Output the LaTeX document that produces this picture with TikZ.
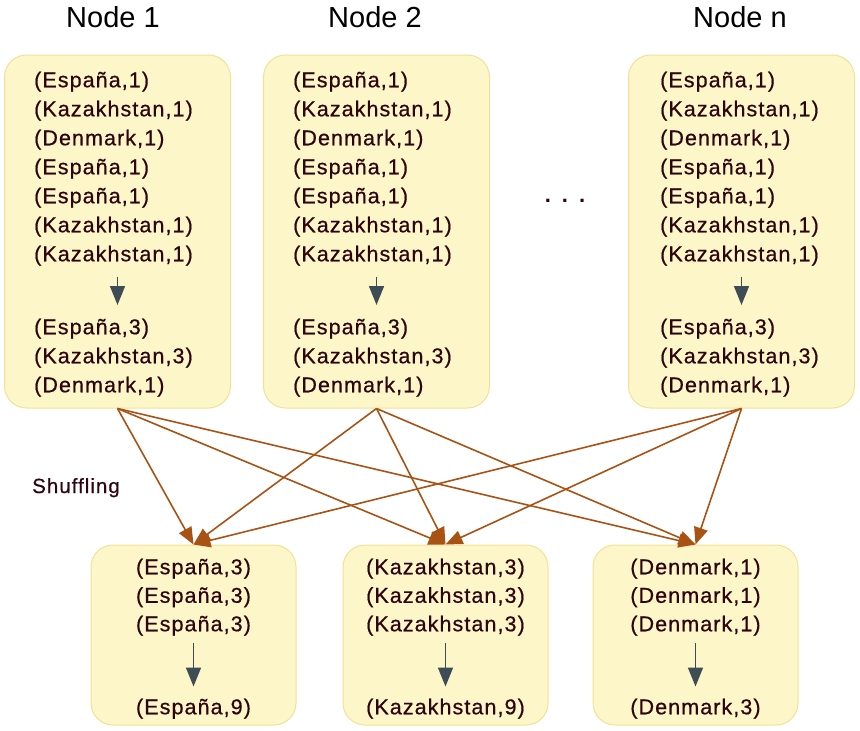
\documentclass[tikz,border=0pt]{standalone}
\usepackage{fontspec}
\setmainfont{Liberation Sans}
\newfontfamily\pairfont[LetterSpace=5,FakeBold=0.6]{Liberation Sans}
\usetikzlibrary{arrows.meta,positioning}
\definecolor{boxfill}{RGB}{253,246,200}
\definecolor{boxedge}{RGB}{240,226,150}
\definecolor{pairtext}{RGB}{45,5,15}
\definecolor{sumgray}{RGB}{62,76,86}
\definecolor{shuforange}{RGB}{168,82,20}
\newcommand{\mappairs}{(España,1)\\(Kazakhstan,1)\\(Denmark,1)\\(España,1)\\(España,1)\\(Kazakhstan,1)\\(Kazakhstan,1)}
\newcommand{\combinedpairs}{(España,3)\\(Kazakhstan,3)\\(Denmark,1)}

\begin{document}
\begin{tikzpicture}[x=1pt, y=1pt,
    mapbox/.style={rectangle, rounded corners=22pt, draw=boxedge, fill=boxfill, line width=1pt, minimum width=226pt, minimum height=353pt, inner sep=0pt},
    redbox/.style={mapbox, minimum width=205pt, minimum height=180pt},
    pairs/.style={inner sep=0pt, align=left, text=pairtext, font=\pairfont\fontsize{21.5}{29}\selectfont},
    cpairs/.style={pairs, align=center, font=\pairfont\fontsize{21.5}{28.5}\selectfont},
    title/.style={font=\fontsize{29}{34}\selectfont, anchor=base, inner sep=0pt},
    sumarr/.style={-{Triangle[length=19pt, width=15pt]}, line width=1.6pt, sumgray},
    shufarr/.style={-{Triangle[length=17pt, width=14pt]}, line width=1.6pt, shuforange}
]
  \useasboundingbox (0,0) rectangle (860,-731);

  % titles
  \node[title] (t1) at (113,-27) {Node 1};
  \node[title] (t2) at (375,-27) {Node 2};
  \node[title] (tn) at (740,-27) {Node n};

  % map side
  \node[mapbox] (box1) at (117.5,-231.5) {};
  \node[mapbox] (box2) at (376.5,-231.5) {};
  \node[mapbox] (boxn) at (741.5,-231.5) {};
  \node[font=\bfseries\fontsize{22}{26}\selectfont, text=pairtext] (dots) at (565,-201) {.\,\,\,.\,\,\,.};

  \node[pairs, below right=17pt and 30pt of box1.north west] (up1) {\mappairs};
  \node[pairs, below right=264pt and 30pt of box1.north west] (res1) {\combinedpairs};
  \node[pairs, below right=17pt and 30pt of box2.north west] (up2) {\mappairs};
  \node[pairs, below right=264pt and 30pt of box2.north west] (res2) {\combinedpairs};
  \node[pairs, below right=17pt and 32pt of boxn.north west] (upn) {\mappairs};
  \node[pairs, below right=264pt and 32pt of boxn.north west] (resn) {\combinedpairs};

  \draw[sumarr, shorten <=11pt, shorten >=13.5pt] (up1.south -| box1.north) -- (res1.north -| box1.north);
  \draw[sumarr, shorten <=11pt, shorten >=13.5pt] (up2.south -| box2.north) -- (res2.north -| box2.north);
  \draw[sumarr, shorten <=11pt, shorten >=13.5pt] (upn.south -| boxn.north) -- (resn.north -| boxn.north);

  % reduce side
  \node[redbox] (redA) at (193.5,-635) {};
  \node[redbox] (redB) at (445.5,-635) {};
  \node[redbox] (redC) at (695.5,-635) {};

  \node[cpairs, below=14pt of redA.north] (inA) {(España,3)\\(España,3)\\(España,3)};
  \node[cpairs, below=154pt of redA.north] (outA) {(España,9)};
  \node[cpairs, below=14pt of redB.north] (inB) {(Kazakhstan,3)\\(Kazakhstan,3)\\(Kazakhstan,3)};
  \node[cpairs, below=154pt of redB.north] (outB) {(Kazakhstan,9)};
  \node[cpairs, below=14pt of redC.north] (inC) {(Denmark,1)\\(Denmark,1)\\(Denmark,1)};
  \node[cpairs, below=154pt of redC.north] (outC) {(Denmark,3)};

  \draw[sumarr, shorten <=7pt, shorten >=12pt] (inA.south -| redA.north) -- (outA.north -| redA.north);
  \draw[sumarr, shorten <=7pt, shorten >=12pt] (inB.south -| redB.north) -- (outB.north -| redB.north);
  \draw[sumarr, shorten <=7pt, shorten >=12pt] (inC.south -| redC.north) -- (outC.north -| redC.north);

  % shuffling
  \node[font=\pairfont\fontsize{20.5}{24}\selectfont, text=pairtext, anchor=base west, inner sep=0pt] (shuf) at (32,-493) {Shuffling};
  \draw[shufarr] (box1.south) -- (redA.north);
  \draw[shufarr] (box1.south) -- (redB.north);
  \draw[shufarr] (box1.south) -- (redC.north);
  \draw[shufarr] (box2.south) -- (redA.north);
  \draw[shufarr] (box2.south) -- (redB.north);
  \draw[shufarr] (box2.south) -- (redC.north);
  \draw[shufarr] (boxn.south) -- (redA.north);
  \draw[shufarr] (boxn.south) -- (redB.north);
  \draw[shufarr] (boxn.south) -- (redC.north);
\end{tikzpicture}
\end{document}
